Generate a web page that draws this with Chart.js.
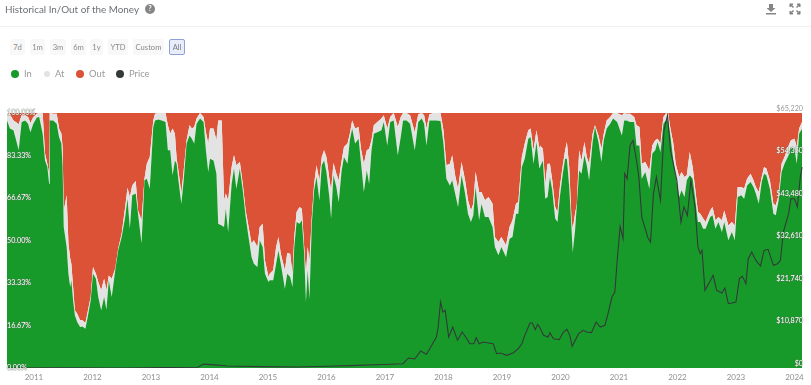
<!DOCTYPE html>
<html lang="en">
<head>
<meta charset="UTF-8" />
<title>Historical In/Out of the Money</title>
<script src="https://cdn.jsdelivr.net/npm/chart.js"></script>
<style>
    html, body { margin: 0; padding: 0; background: #fff; width: 811px; height: 385px; overflow: hidden; font-family: Lato, Arial, sans-serif; }
    #chart { position: absolute; left: 0; top: 0; }
    .title { position: absolute; left: 5px; top: 2px; font-size: 9.9px; line-height: 14px; color: #6c7074; }
    .help { position: absolute; left: 145px; top: 4px; width: 10px; height: 10px; border-radius: 50%; background: #858585; color: #fff; font-size: 7.5px; line-height: 10px; text-align: center; font-weight: 700; }
    .rule { position: absolute; left: 0; right: 0; top: 26px; height: 1px; background: #f0f0f0; }
    .icon { position: absolute; top: 3px; width: 12px; height: 12px; }
    .btn { position: absolute; top: 39px; height: 16px; box-sizing: border-box; line-height: 16px; text-align: center; font-size: 7.6px; color: #8a8a8a; background: #f8f8f9; border-radius: 2px; }
    .btn.on { background: #e9edf9; border: 1px solid #8e9fdc; line-height: 14px; color: #778; }
    .legend { position: absolute; top: 68px; font-size: 9.4px; line-height: 12px; color: #9a9a9a; }
    .dot { position: absolute; top: 70px; width: 8px; height: 8px; border-radius: 50%; }
</style>
</head>
<body>
<canvas id="chart" width="811" height="385"></canvas>

<div class="title">Historical In/Out of the Money</div>
<div class="help">?</div>
<svg class="icon" style="left:765px" viewBox="0 0 12 12"><path d="M4 1h4v4h2.500L6 9 1.500 5H4z M1 10h10v1.500H1z" fill="#858585"/></svg>
<svg class="icon" style="left:789px" viewBox="0 0 12 12"><path d="M1 1l3.500 3.500M11 1L7.500 4.500M1 11l3.500-3.500M11 11L7.500 7.500" stroke="#858585" stroke-width="1.500" fill="none"/><path d="M1 1h3L1 4zM11 1H8l3 3zM1 11h3l-3-3zM11 11H8l3-3z" fill="#858585" stroke="#858585"/></svg>
<div class="rule"></div>

<div class="btn" style="left:10px;width:15px">7d</div>
<div class="btn" style="left:30px;width:15px">1m</div>
<div class="btn" style="left:50px;width:16px">3m</div>
<div class="btn" style="left:71px;width:15px">6m</div>
<div class="btn" style="left:90px;width:13px">1y</div>
<div class="btn" style="left:108px;width:20px">YTD</div>
<div class="btn" style="left:133px;width:31px">Custom</div>
<div class="btn on" style="left:169px;width:16px">All</div>

<span class="dot" style="left:11px;background:#189a2b"></span><span class="legend" style="left:24px">In</span>
<span class="dot" style="left:44px;top:71px;width:6px;height:6px;background:#e3e3e3"></span><span class="legend" style="left:55px">At</span>
<span class="dot" style="left:76px;background:#dc5236"></span><span class="legend" style="left:89px">Out</span>
<span class="dot" style="left:116px;background:#333a38"></span><span class="legend" style="left:129px">Price</span>

<script>
const yearTicks = [2011, 2012, 2013, 2014, 2015, 2016, 2017, 2018, 2019, 2020, 2021, 2022, 2023, 2024];
const shareTicks = [0, 16.67, 33.33, 50, 66.67, 83.33, 100];
const priceTicks = [0, 10870, 21740, 32610, 43480, 54350, 65220];

const dates = [
    2010.54,2010.59,2010.65,2010.69,2010.74,2010.79,2010.85,2010.90,2010.94,2010.99,2011.05,2011.09,2011.15,2011.19,2011.23,2011.26,2011.27,2011.33,2011.39,2011.43,2011.47,2011.49,2011.51,2011.56,2011.59,2011.62,2011.64,2011.67,2011.70,2011.74,2011.79,2011.83,2011.88,2011.93,2011.97,
    2012.01,2012.06,2012.10,2012.15,2012.20,2012.24,2012.28,2012.33,2012.39,2012.44,2012.50,2012.56,2012.60,2012.64,2012.68,2012.74,2012.78,2012.84,2012.89,2012.93,2012.98,
    2013.04,2013.07,2013.13,2013.21,2013.25,2013.29,2013.33,2013.37,2013.41,2013.44,2013.47,2013.52,2013.56,2013.61,2013.66,2013.70,2013.74,2013.78,2013.84,2013.90,2013.94,2013.98,
    2014.01,2014.07,2014.12,2014.15,2014.21,2014.25,2014.28,2014.32,2014.38,2014.42,2014.46,2014.52,2014.57,2014.62,2014.66,2014.72,2014.76,2014.82,2014.86,2014.91,2014.95,
    2015.01,2015.03,2015.09,2015.14,2015.18,2015.22,2015.29,2015.33,2015.38,2015.42,2015.45,2015.49,2015.54,2015.58,2015.62,2015.65,2015.68,2015.71,2015.75,2015.79,2015.83,2015.88,2015.92,2015.96,
    2016.00,2016.05,2016.08,2016.12,2016.17,2016.21,2016.26,2016.30,2016.36,2016.40,2016.44,2016.49,2016.55,2016.59,2016.64,2016.69,2016.73,2016.77,2016.81,2016.87,2016.94,2016.98,
    2017.04,2017.09,2017.15,2017.22,2017.27,2017.31,2017.37,2017.43,2017.51,2017.57,2017.63,2017.67,2017.71,2017.76,2017.83,2017.88,2017.95,
    2018.00,2018.05,2018.11,2018.15,2018.20,2018.25,2018.31,2018.37,2018.42,2018.47,2018.51,2018.55,2018.61,2018.65,2018.71,2018.77,2018.84,2018.88,2018.94,2018.99,
    2019.07,2019.13,2019.18,2019.24,2019.28,2019.34,2019.39,2019.45,2019.49,2019.54,2019.59,2019.64,2019.65,2019.70,2019.74,2019.78,2019.82,2019.86,2019.91,2019.95,2019.99,
    2020.04,2020.08,2020.11,2020.15,2020.19,2020.21,2020.25,2020.28,2020.32,2020.36,2020.41,2020.45,2020.49,2020.55,2020.59,2020.65,2020.70,2020.74,2020.79,2020.85,2020.90,2020.97,
    2021.05,2021.09,2021.13,2021.19,2021.26,2021.30,2021.35,2021.39,2021.45,2021.52,2021.57,2021.62,2021.66,2021.71,2021.76,2021.80,2021.84,2021.88,2021.93,2021.97,
    2022.03,2022.07,2022.12,2022.16,2022.21,2022.26,2022.30,2022.35,2022.39,2022.44,2022.48,2022.56,2022.60,2022.65,2022.70,2022.76,2022.80,2022.87,2022.93,2022.98,
    2023.03,2023.09,2023.14,2023.19,2023.25,2023.30,2023.34,2023.39,2023.44,2023.48,2023.52,2023.58,2023.64,2023.68,2023.73,2023.78,2023.83,2023.90,2023.94,
    2024.00,2024.04,2024.08,2024.13
];

const inShare = [
    97.1,93.9,93.2,89.9,85.4,96.5,97.1,95.8,92.5,95.8,98.2,98.4,91.9,81.4,78.8,72.3,97.1,97.1,95.8,90.6,88,78.8,55.3,47.5,37,31.8,34.4,26.5,20.7,18,16.1,16.3,15.4,21.3,26.5,
    37,35,27.8,22.6,27.8,22.9,34.4,27.8,38.3,46.1,51.4,59.2,66.4,54.6,67.7,68.4,60.5,48.8,73.6,74.2,70.3,
    94.5,97.1,97.5,96.9,96.5,85.4,85.4,75.6,81.4,80.1,73.6,64.4,73.6,88,91.2,89.9,88,95.8,97.8,96.5,85.4,76.9,
    82.1,81.4,76.2,56.6,55.9,55.3,62.5,53.3,72.3,78.2,70.3,78.2,69.7,59.2,52.7,43.5,40.9,39.6,50.1,47.5,37,
    33.7,34.4,34.4,40.9,46.1,40.9,31.1,37,35.7,31.8,47.5,57.3,56.6,57.9,44.8,25.9,38.3,27.2,56.6,69.7,74.9,65.8,79.5,81.4,
    76.9,67.1,58.6,75.6,71,65.1,77.5,82.7,80.1,89.3,93.9,88,89.9,80.8,69,77.5,72.3,85.4,91.9,92.5,93.2,96.5,
    87.3,96.5,97.1,83.4,90.6,97.1,97.1,95.8,85.4,96.5,97.8,95.8,87.3,97.1,97.1,97.1,96.9,
    88,74.2,71.6,73.6,68.4,63.1,75.6,68.4,60.5,57.3,59.9,71,57.9,64.4,59.2,59.2,55.3,47.5,44.2,47.5,
    43.5,50.7,51.4,60.5,60.5,78.8,82.1,89.9,90.6,80.1,88.6,78.2,78.2,81.4,66.4,67.1,74.9,69.7,58.6,57.3,67.1,
    76.2,82.1,82.1,71,54.6,45.5,54,63.8,77.5,76.2,83.4,79.5,73.6,88.6,94.5,88.6,80.8,89.3,93.9,95.8,97.8,96.5,
    91.2,97.1,97.1,96.5,96.5,87.3,87.3,74.2,76.9,70.3,84.1,85.4,88.6,84.7,95.8,97.1,97.1,91.2,81.4,75.6,
    67.1,69.7,67.1,73.6,75.6,74.2,67.1,57.3,57.3,54.6,54.6,59.2,59.9,54.6,57.3,53.3,57.3,50.1,53.3,50.1,
    67.1,67.7,66.4,71.6,72.9,71,68.4,64.4,72.9,76.2,75.6,70.3,60.5,59.9,65.8,76.9,80.1,83.4,86.7,
    86,80.1,91.9,93.9
];

const atShare = [
    2.9,5.6,3.9,6.6,10.2,2.6,2,2.6,3.6,2.6,1.5,1.6,8.1,2.7,1.3,3.9,2.9,2.6,3.9,3.3,3.9,7.9,6.5,20.2,11.8,11.1,6.5,5.3,1.9,3.3,2.6,2.4,2.2,2,1.3,
    2.6,2,5.9,7.9,7.2,7.6,1.9,7.2,0.7,0.7,1.3,3.9,4.3,12.5,3.9,4.9,1.3,9.1,0.6,5.9,12.4,
    2.6,2.6,2.5,3.1,3.5,9.8,6.5,18.3,10.5,2,3.9,4,3.9,1.3,4,4,6.5,2,2.2,1.9,7.1,11.1,
    11.8,12.5,13.1,40.5,41.2,10.5,5.9,12.5,6.5,5.2,9.2,2.6,2.6,2.6,3.9,5.3,9.2,7.9,5.2,9.1,5.2,
    2,2.6,3.9,6.6,5.3,3.9,7.2,8.1,9.1,5.2,3.9,3.9,6.5,4.6,2.7,11.1,9.2,15,2.6,2.6,4.6,7.8,3.2,4,
    5.8,7.1,11.1,4.8,5.2,8.5,3.9,4,7.9,2.6,3.2,5.9,4.6,5.2,11.1,7.9,13.7,3.9,3.3,4,4.6,2.6,
    6.6,1.9,2.9,11.1,7.8,2.9,2.9,3.3,7.1,3,2.2,3.3,6.6,2.4,2.9,2.9,3.1,
    5.2,5.3,8.5,9.8,7.2,7.2,5.2,5.2,5.3,4.5,4.5,5.9,11.1,4.6,6.6,7.9,9.1,3.9,5.2,3.9,
    4.6,4.6,6.5,3.9,4.6,3.9,5.9,3.3,3.3,5.3,4.6,7.8,9.1,4.6,5.9,13,5.2,3.9,4.5,3.9,3.9,
    3.3,3.3,6.5,7.8,3.3,9.1,6.5,0.6,7.9,5.2,5.2,3.2,6.5,3.3,0.7,2.6,5.2,2.6,3.2,2.6,2.2,3.5,
    7.9,2.9,2.6,3.2,1.9,7.9,7.2,5.9,3.9,7.2,3.2,3.9,1.3,3.3,2.6,2.6,2.9,2.7,6.6,4.5,
    7.8,7.2,7.8,2,9.1,4.6,3.9,3.9,3.2,4,2.7,2.6,3.2,3.3,1.9,4.6,4.5,5.8,4,5.8,
    3.9,3.3,3.9,2.6,3.3,2.6,2.6,4.6,2,2.6,2.6,3.3,3.9,3.9,1.9,3.2,2.6,3.9,2.6,
    3.9,6.6,2,2.6
];

const outShare = [
    0,0.5,2.9,3.5,4.4,0.9,0.9,1.6,3.9,1.6,0.3,0,0,15.9,19.9,23.8,0,0.3,0.3,6.1,8.1,13.3,38.2,32.3,51.2,57.1,59.1,68.2,77.4,78.7,81.3,81.3,82.4,76.7,72.2,
    60.4,63,66.3,69.5,65,69.5,63.7,65,61,53.2,47.3,36.9,29.3,32.9,28.4,26.7,38.2,42.1,25.8,19.9,17.3,
    2.9,0.3,0,0,0,4.8,8.1,6.1,8.1,17.9,22.5,31.6,22.5,10.7,4.8,6.1,5.5,2.2,0,1.6,7.5,12,
    6.1,6.1,10.7,2.9,2.9,34.2,31.6,34.2,21.2,16.6,20.5,19.2,27.7,38.2,43.4,51.2,49.9,52.5,44.7,43.4,57.8,
    64.3,63,61.7,52.5,48.6,55.2,61.7,54.9,55.2,63,48.6,38.8,36.9,37.5,52.5,63,52.5,57.8,40.8,27.7,20.5,26.4,17.3,14.6,
    17.3,25.8,30.3,19.6,23.8,26.4,18.6,13.3,12,8.1,2.9,6.1,5.5,14,19.9,14.6,14,10.7,4.8,3.5,2.2,0.9,
    6.1,1.6,0,5.5,1.6,0,0,0.9,7.5,0.5,0,0.9,6.1,0.5,0,0,0,
    6.8,20.5,19.9,16.6,24.4,29.7,19.2,26.4,34.2,38.2,35.6,23.1,31,31,34.2,32.9,35.6,48.6,50.6,48.6,
    51.9,44.7,42.1,35.6,34.9,17.3,12,6.8,6.1,14.6,6.8,14,12.7,14,27.7,19.9,19.9,26.4,36.9,38.8,29,
    20.5,14.6,11.4,21.2,42.1,45.4,39.5,35.6,14.6,18.6,11.4,17.3,19.9,8.1,4.8,8.8,14,8.1,2.9,1.6,0,0,
    0.9,0,0.3,0.3,1.6,4.8,5.5,19.9,19.2,22.5,12.7,10.7,10.1,12,1.6,0.3,0,6.1,12,19.9,
    25.1,23.1,25.1,24.4,15.3,21.2,29,38.8,39.5,41.4,42.7,38.2,36.9,42.1,40.8,42.1,38.2,44.1,42.7,44.1,
    29,29,29.7,25.8,23.8,26.4,29,31,25.1,21.2,21.8,26.4,35.6,36.2,32.3,19.9,17.3,12.7,10.7,
    10.1,13.3,6.1,3.5
];

const priceDates = [
    2010.54,2011.45,2012.5,2013.25,2013.8,2013.9,2014.1,2014.3,2014.9,2015.5,2016,2016.4,2016.97,
    2017.31,2017.40,2017.51,2017.61,2017.71,2017.80,2017.88,2017.91,2017.95,2017.99,
    2018.03,2018.09,2018.16,2018.24,2018.32,2018.40,2018.45,2018.52,2018.56,2018.61,2018.68,2018.77,2018.85,2018.91,2018.97,
    2019.08,2019.19,2019.28,2019.34,2019.39,2019.48,2019.52,2019.57,2019.61,2019.65,2019.71,2019.79,2019.82,2019.88,2019.98,
    2020.05,2020.11,2020.16,2020.20,2020.31,2020.39,2020.45,2020.53,2020.61,2020.68,2020.76,2020.82,2020.88,2020.93,2020.97,
    2021.02,2021.07,2021.10,2021.14,2021.19,2021.24,2021.30,2021.34,2021.39,2021.45,2021.49,2021.54,2021.59,2021.64,2021.71,2021.77,2021.83,2021.88,2021.99,
    2022.06,2022.11,2022.17,2022.23,2022.30,2022.35,2022.39,2022.42,2022.47,2022.55,2022.61,2022.67,2022.76,2022.81,2022.87,2022.93,
    2023.00,2023.06,2023.11,2023.17,2023.21,2023.27,2023.34,2023.42,2023.48,2023.55,2023.64,2023.71,2023.76,2023.81,2023.90,2023.94,
    2024.00,2024.05,2024.10,2024.13
];

const priceValues = [
    0,20,8,130,200,1000,800,500,350,260,430,600,900,
    1100,2560,2300,4350,3500,5800,7900,10500,16900,14300,
    14750,7900,10500,7100,9200,7500,6200,6200,7760,6200,6650,6400,6200,3660,3840,
    3240,3840,4950,6200,8350,11500,11500,9800,11170,10300,8350,7930,9040,7500,7250,
    9200,9890,8350,5540,8780,9630,9200,9040,11760,10490,10900,14300,18150,19440,27500,
    36200,33080,49700,48400,56950,58200,53100,48850,38600,35600,33500,32200,44600,48850,42900,60800,64600,55700,48000,
    37300,41200,39000,48000,41200,30950,29240,30100,19860,22000,23700,19860,19180,20460,16450,16620,
    16880,22850,23440,21570,27960,29670,27500,26090,30090,30350,26260,26680,27500,34780,39470,43300,
    43300,41200,48850,51400
];

function toPoints(xs, ys) {
    return xs.map((x, i) => ({ x: x, y: ys[i] }));
}

function areaDataset(label, values, color, fill) {
    return {
        label: label,
        data: toPoints(dates, values),
        yAxisID: "y",
        backgroundColor: color,
        borderWidth: 0,
        pointRadius: 0,
        tension: 0,
        fill: fill,
        order: 2,
    };
}

new Chart(document.getElementById("chart"), {
    type: "line",
    data: {
        datasets: [
            areaDataset("In", inShare, "#189a2b", "origin"),
            areaDataset("At", atShare, "#e3e3e3", "-1"),
            areaDataset("Out", outShare, "#dc5236", "-1"),
            {
                label: "Price",
                data: toPoints(priceDates, priceValues),
                yAxisID: "y2",
                borderColor: "#333a38",
                borderWidth: 1.1,
                pointRadius: 0,
                tension: 0,
                fill: false,
                order: 1,
            },
        ],
    },
    options: {
        responsive: false,
        animation: false,
        layout: { padding: { left: 7, right: 8, top: 113, bottom: 0 } },
        plugins: { legend: { display: false }, tooltip: { enabled: false } },
        scales: {
            x: {
                type: "linear",
                min: 2010.54,
                max: 2024.146,
                border: { display: false },
                grid: { display: false, drawTicks: false },
                afterBuildTicks: (scale) => { scale.ticks = yearTicks.map((v) => ({ value: v })); },
                afterFit: (scale) => { scale.height = 17; },
                ticks: {
                    autoSkip: false,
                    maxRotation: 0,
                    padding: 5,
                    color: "#8f8f8f",
                    font: { family: "Lato", size: 8 },
                    callback: (v) => String(v),
                },
            },
            y: {
                stacked: true,
                position: "left",
                min: 0,
                max: 100,
                border: { display: false },
                grid: { display: false, drawTicks: false },
                afterBuildTicks: (scale) => { scale.ticks = shareTicks.map((v) => ({ value: v })); },
                afterFit: (scale) => { scale.width = 0; },
                ticks: {
                    mirror: true,
                    padding: 0,
                    z: 2,
                    autoSkip: false,
                    color: "#ffffff",
                    textStrokeColor: "rgba(90,110,90,0.55)",
                    textStrokeWidth: 1,
                    font: { family: "Lato", size: 7.2 },
                    callback: (v) => v.toFixed(2) + "%",
                },
            },
            y2: {
                position: "right",
                min: 0,
                max: 65220,
                border: { display: false },
                grid: { display: false, drawTicks: false },
                afterBuildTicks: (scale) => { scale.ticks = priceTicks.map((v) => ({ value: v })); },
                afterFit: (scale) => { scale.width = 0; },
                ticks: {
                    mirror: true,
                    padding: 0,
                    z: 2,
                    autoSkip: false,
                    labelOffset: -4.5,
                    color: (ctx) => (ctx.tick.value === 65220 ? "#9a9a9a" : "#ffffff"),
                    textStrokeColor: (ctx) => (ctx.tick.value === 65220 ? "rgba(0,0,0,0)" : "rgba(90,110,90,0.55)"),
                    textStrokeWidth: 1,
                    font: { family: "Lato", size: 7.2 },
                    callback: (v) => "$" + v.toLocaleString("en-US"),
                },
            },
        },
    },
});
</script>
</body>
</html>
